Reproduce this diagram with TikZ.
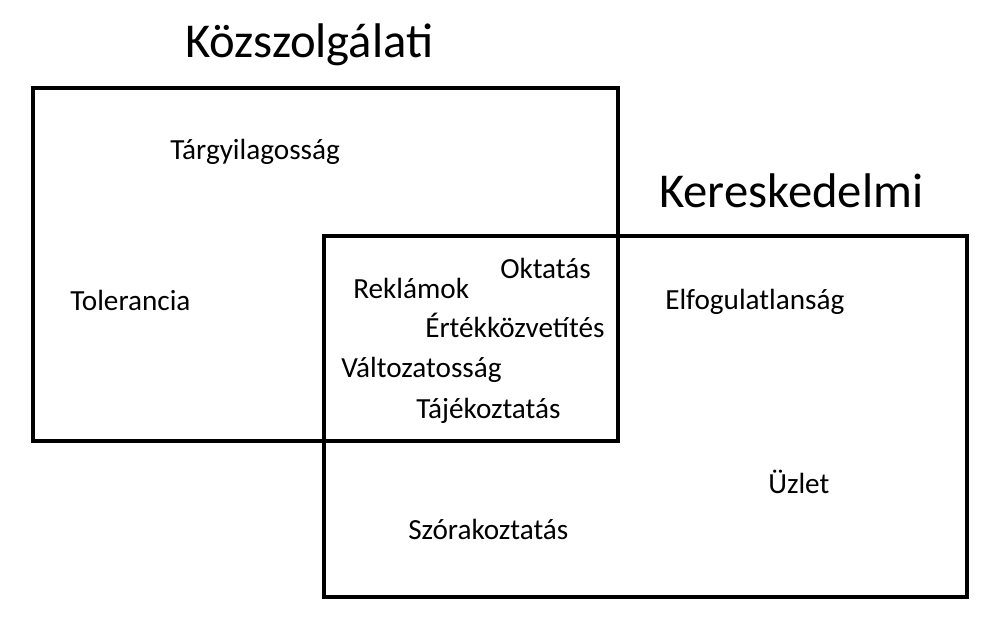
\documentclass[tikz,border=0pt]{standalone}
\usepackage{fontspec}
\setmainfont{Carlito}
\begin{document}
\begin{tikzpicture}[x=0.75pt,y=-0.75pt,
  box/.style={draw=black,line width=3pt},
  lbl/.style={anchor=base west,inner sep=0pt,font=\fontsize{21.9}{26}\selectfont},
  head/.style={anchor=base west,inner sep=0pt,font=\fontsize{36.5}{44}\selectfont}]
\useasboundingbox (0,0) rectangle (1003,630);
\draw[box] (33,88) rectangle (618,441);
\draw[box] (324,236) rectangle (967,597);
\node[head] (k1) at (185,58) {Közszolgálati};
\node[head] (k2) at (659,208) {Kereskedelmi};
\node[lbl] (t1) at (170,160) {Tárgyilagosság};
\node[lbl] (t2) at (70,311) {Tolerancia};
\node[lbl] (t3) at (353,299) {Reklámok};
\node[lbl] (t4) at (500,279) {Oktatás};
\node[lbl] (t5) at (425,338) {Értékközvetítés};
\node[lbl] (t6) at (341,378) {Változatosság};
\node[lbl] (t7) at (416,419) {Tájékoztatás};
\node[lbl] (t8) at (665,310) {Elfogulatlanság};
\node[lbl] (t9) at (768,494) {Üzlet};
\node[lbl] (t10) at (408,539) {Szórakoztatás};
\end{tikzpicture}
\end{document}
